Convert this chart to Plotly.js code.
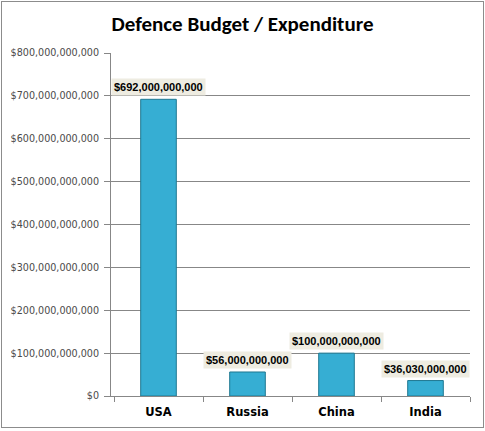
<!DOCTYPE html>
<html><head><meta charset="utf-8">
<script src="https://cdn.plot.ly/plotly-3.0.1.min.js"></script>
<style>html,body{margin:0;padding:0;background:#fff}#frame{position:absolute;left:1px;top:1px;width:481px;height:425px;border:1px solid #8c8c8c}#chart{width:485px;height:431px}</style>
</head><body>
<div id="chart"></div>
<script>
const countries = ["USA", "Russia", "China", "India"];
const spending = [692000000000, 56000000000, 100000000000, 36030000000];
const labels = ["$692,000,000,000", "$56,000,000,000", "$100,000,000,000", "$36,030,000,000"];

const trace = {
  type: "bar",
  x: countries,
  y: spending,
  marker: {color: "#36aed3", line: {color: "#1f7891", width: 1}},
  hoverinfo: "skip"
};

const annotations = countries.map((c, i) => ({
  x: c, y: spending[i], xref: "x", yref: "y",
  text: "<b>" + labels[i] + "</b>",
  showarrow: false, yanchor: "bottom", yshift: 3,
  bgcolor: "#eeece1", borderpad: 2,
  font: {family: "Liberation Sans, Arial, sans-serif", size: 11, color: "#000"}
}));

const layout = {
  width: 485, height: 431,
  margin: {l: 111, r: 15, t: 53, b: 35},
  paper_bgcolor: "#fff", plot_bgcolor: "#fff",
  title: {text: "<b>Defence Budget / Expenditure</b>", x: 0.5, xanchor: "center", y: 0.945, yanchor: "middle",
          font: {family: "Carlito, Calibri, Liberation Sans, sans-serif", size: 21, color: "#000"}},
  bargap: 0.6,
  showlegend: false,
  xaxis: {
    automargin: false,
    showline: true, linecolor: "#878787", linewidth: 1,
    ticks: "outside", tickson: "boundaries", ticklen: 5, tickcolor: "#878787",
    ticklabelstandoff: 5,
    tickfont: {family: "Tahoma, DejaVu Sans, sans-serif", size: 11.5, color: "#000", weight: "bold"},
    showgrid: false, fixedrange: true
  },
  yaxis: {
    automargin: false,
    range: [0, 800000000000], dtick: 100000000000,
    tickformat: "$,.0f",
    showline: true, linecolor: "#878787", linewidth: 1,
    ticks: "outside", ticklen: 6, tickcolor: "#878787",
    ticklabelstandoff: 3,
    showgrid: true, gridcolor: "#878787", gridwidth: 1,
    zeroline: false,
    tickfont: {family: "Tahoma, DejaVu Sans, sans-serif", size: 9.6, color: "#4a4a4a"},
    fixedrange: true
  },
  annotations: annotations
};
Plotly.newPlot("chart", [trace], layout, {displayModeBar: false, staticPlot: true}).then(() => {
  const f = document.createElement("div"); f.id = "frame"; f.style.pointerEvents = "none";
  document.body.appendChild(f);
});
</script>
</body></html>
